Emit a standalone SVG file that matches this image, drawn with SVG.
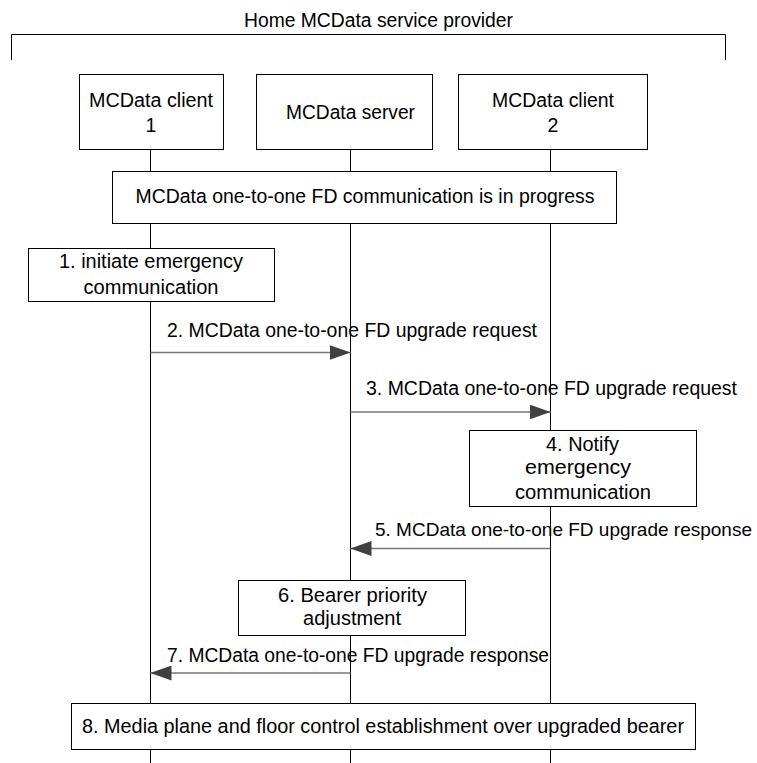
<svg xmlns="http://www.w3.org/2000/svg" width="757" height="763" viewBox="0 0 757 763">
<style>
text{font-family:"Liberation Sans",Arial,sans-serif;font-size:19.5px;fill:#000;text-anchor:middle}
.lbl{text-anchor:start}
.box{fill:#fff;stroke:#000;stroke-width:1}
.life{stroke:#000;stroke-width:1;fill:none}
.msg{stroke:#777;stroke-width:1.3;fill:none;marker-end:url(#ah)}
</style>
<defs>
<marker id="ah" markerUnits="userSpaceOnUse" markerWidth="21" markerHeight="15" refX="21" refY="7.5" orient="auto">
<path d="M0,0 L21,7.5 L0,15 Z" fill="#404040"/>
</marker>
</defs>
<rect width="757" height="763" fill="#fff"/>
<g id="provider">
<text x="378.5" y="27" textLength="269" lengthAdjust="spacingAndGlyphs">Home MCData service provider</text>
<path class="life" d="M11.5,60 V34.5 H725.5 V60"/>
</g>
<g id="lifelines">
<line class="life" x1="150.5" y1="150" x2="150.5" y2="763"/>
<line class="life" x1="350.5" y1="150" x2="350.5" y2="763"/>
<line class="life" x1="550.5" y1="150" x2="550.5" y2="763"/>
</g>
<g id="client1">
<rect class="box" x="79.5" y="74.5" width="144" height="75"/>
<text x="151" y="107" textLength="124" lengthAdjust="spacingAndGlyphs">MCData client</text>
<text x="151" y="132">1</text>
</g>
<g id="server">
<rect class="box" x="256.5" y="74.5" width="176" height="75"/>
<text x="350.5" y="119" textLength="129" lengthAdjust="spacingAndGlyphs">MCData server</text>
</g>
<g id="client2">
<rect class="box" x="458.5" y="74.5" width="189" height="75"/>
<text x="553" y="107" textLength="122" lengthAdjust="spacingAndGlyphs">MCData client</text>
<text x="553" y="132">2</text>
</g>
<g id="inprogress">
<rect class="box" x="112.5" y="171.5" width="504" height="52"/>
<text x="365" y="203" textLength="459" lengthAdjust="spacingAndGlyphs">MCData one-to-one FD communication is in progress</text>
</g>
<g id="step1">
<rect class="box" x="28.5" y="248.5" width="246" height="53"/>
<text x="151" y="268" textLength="184" lengthAdjust="spacingAndGlyphs">1. initiate emergency</text>
<text x="151" y="294" textLength="135" lengthAdjust="spacingAndGlyphs">communication</text>
</g>
<g id="step4">
<rect class="box" x="469.5" y="430.5" width="227" height="76"/>
<text x="582.5" y="451" textLength="73" lengthAdjust="spacingAndGlyphs">4. Notify</text>
<text x="578" y="474" textLength="106" lengthAdjust="spacingAndGlyphs">emergency</text>
<text x="583" y="499" textLength="136" lengthAdjust="spacingAndGlyphs">communication</text>
</g>
<g id="step6">
<rect class="box" x="238.5" y="580.5" width="227" height="55"/>
<text x="352.5" y="602" textLength="149" lengthAdjust="spacingAndGlyphs">6. Bearer priority</text>
<text x="352" y="625" textLength="98" lengthAdjust="spacingAndGlyphs">adjustment</text>
</g>
<g id="step8">
<rect class="box" x="71.5" y="703.5" width="624" height="46"/>
<text x="383" y="733" textLength="602" lengthAdjust="spacingAndGlyphs">8. Media plane and floor control establishment over upgraded bearer</text>
</g>
<g id="connectors">
<line class="msg" x1="150.5" y1="352.5" x2="350.5" y2="352.5"/>
<text class="lbl" x="167" y="337" textLength="370" lengthAdjust="spacingAndGlyphs">2. MCData one-to-one FD upgrade request</text>
<line class="msg" x1="350.5" y1="412" x2="550.5" y2="412"/>
<text class="lbl" x="366" y="395" textLength="371" lengthAdjust="spacingAndGlyphs">3. MCData one-to-one FD upgrade request</text>
<line class="msg" x1="550.5" y1="548.5" x2="350.5" y2="548.5"/>
<text class="lbl" x="375" y="536" style="font-size:19px" textLength="377" lengthAdjust="spacingAndGlyphs">5. MCData one-to-one FD upgrade response</text>
<line class="msg" x1="350.5" y1="673" x2="150.5" y2="673"/>
<text class="lbl" x="167" y="662" textLength="382" lengthAdjust="spacingAndGlyphs">7. MCData one-to-one FD upgrade response</text>
</g>
</svg>
